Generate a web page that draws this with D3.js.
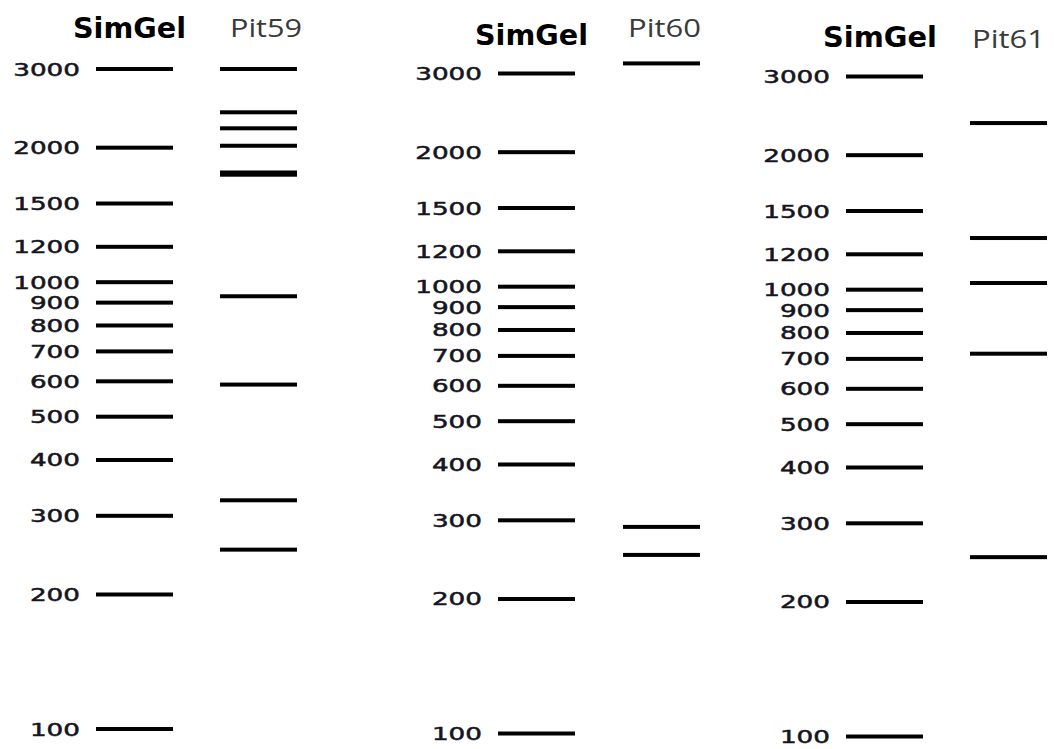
<!DOCTYPE html>
<html>
<head>
<meta charset="utf-8">
<script src="https://cdn.jsdelivr.net/npm/d3@7"></script>
<style>
  body { margin: 0; background: #fff; }
  .num { font-family: "DejaVu Sans", Verdana, sans-serif; font-size: 18px; fill: #151520; stroke: #151520; stroke-width: 0.5px; }
  .ttl { font-family: "DejaVu Sans", Verdana, sans-serif; font-weight: bold; font-size: 28px; fill: #000; }
  .smp { font-family: "Open Sans", "Liberation Sans", sans-serif; font-size: 25px; fill: #3a3a3a; }
</style>
</head>
<body>
<div id="main"></div>
<script>
// ladder sizes (bp) shared by every panel
var ladder = [3000, 2000, 1500, 1200, 1000, 900, 800, 700, 600, 500, 400, 300, 200, 100];
var sampleNames = ["Pit59", "Pit60", "Pit61"];
var pit59 = [3000, 2400, 2210, 2020, 1760, 1740, 930, 590, 325, 252];
var pit60 = [3160, 290, 251];
var pit61 = [2360, 1305, 1035, 719, 252];
var samples = [pit59, pit60, pit61];

var ctx = {
    w: 1054,
    h: 749,
    span: 660,                       // px between 3000 and 100
    top: [69, 73.5, 76.5],           // y of the 3000 band per panel
    ladderX: [96, 498, 846],
    sampleX: [220, 623, 970],
    laneW: 77,
    labelRight: [80, 482, 830],
    title: [{x: 73, y: 38, w: 113}, {x: 475, y: 45, w: 113}, {x: 823, y: 47, w: 114}],
    sample: [{x: 230, y: 37, w: 72}, {x: 628, y: 37, w: 73}, {x: 972, y: 48, w: 73}]
};

var svg = d3.select("#main").append("svg")
    .attr("width", ctx.w)
    .attr("height", ctx.h);

var drawBands = function(g, data, x0, y){
    g.selectAll("rect")
      .data(data)
      .enter()
      .append("rect")
      .attr("x", x0)
      .attr("y", function(d){ return y(d) - 2; })
      .attr("width", ctx.laneW)
      .attr("height", 4)
      .attr("fill", "#000");
};

sampleNames.forEach(function(name, i){
    var y = d3.scaleLog().domain([100, 3000])
              .range([ctx.top[i] + ctx.span, ctx.top[i]]);
    var panel = svg.append("g").attr("class", "panel");

    // ladder lane
    drawBands(panel.append("g"), ladder, ctx.ladderX[i], y);
    // size labels
    panel.append("g").selectAll("text")
      .data(ladder)
      .enter()
      .append("text")
      .attr("class", "num")
      .attr("x", function(d){ return ctx.labelRight[i] - String(d).length * 16.7; })
      .attr("y", function(d){ return y(d) + 6.5; })
      .attr("textLength", function(d){ return String(d).length * 16.7; })
      .attr("lengthAdjust", "spacingAndGlyphs")
      .text(function(d){ return d; });
    // sample lane
    drawBands(panel.append("g"), samples[i], ctx.sampleX[i], y);

    // headers
    panel.append("text")
      .attr("class", "ttl")
      .attr("x", ctx.title[i].x)
      .attr("y", ctx.title[i].y)
      .attr("textLength", ctx.title[i].w)
      .attr("lengthAdjust", "spacingAndGlyphs")
      .text("SimGel");
    panel.append("text")
      .attr("class", "smp")
      .attr("x", ctx.sample[i].x)
      .attr("y", ctx.sample[i].y)
      .attr("textLength", ctx.sample[i].w)
      .attr("lengthAdjust", "spacingAndGlyphs")
      .text(name);
});
</script>
</body>
</html>
